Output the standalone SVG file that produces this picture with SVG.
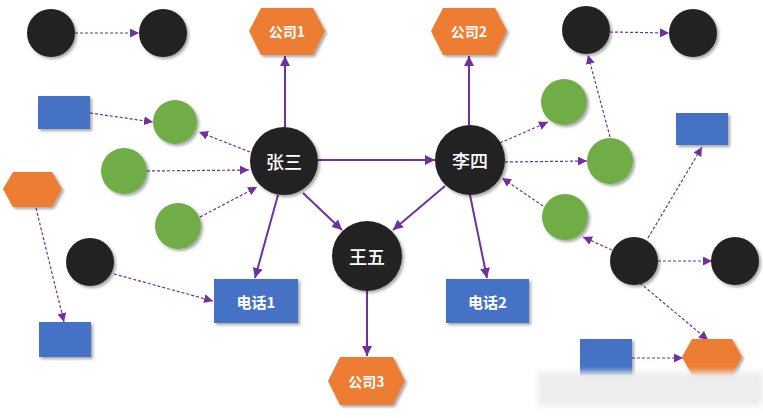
<svg xmlns="http://www.w3.org/2000/svg" width="763" height="418" viewBox="0 0 763 418">
<defs>
<filter id="sh" x="-20%" y="-20%" width="150%" height="150%">
<feDropShadow dx="2" dy="2" stdDeviation="1.5" flood-color="#000" flood-opacity="0.35"/>
</filter>
<filter id="blur" x="-10%" y="-50%" width="120%" height="200%">
<feGaussianBlur stdDeviation="3"/>
</filter>
<marker id="ah" viewBox="0 0 10 10" refX="10" refY="5" markerWidth="10" markerHeight="10" markerUnits="userSpaceOnUse" orient="auto">
<path d="M0,0 L10,5 L0,10 z" fill="#7030A0"/>
</marker>
<marker id="ahs" viewBox="0 0 10 10" refX="10" refY="5" markerWidth="9" markerHeight="9" markerUnits="userSpaceOnUse" orient="auto">
<path d="M0,0 L10,5 L0,10 z" fill="#7030A0"/>
</marker>
</defs>
<style>
.blk{fill:#222222;filter:url(#sh)}
.grn{fill:#70AD47;filter:url(#sh)}
.blu{fill:#4472C4;filter:url(#sh)}
.org{fill:#ED7D31;filter:url(#sh)}
.solid{stroke:#7030A0;stroke-width:2;fill:none;marker-end:url(#ah)}
.dash{stroke:#7030A0;stroke-width:1.2;stroke-dasharray:3 2;fill:none;marker-end:url(#ahs)}
.t{fill:#ffffff;font-family:"Noto Sans CJK SC","Liberation Sans",sans-serif;font-weight:bold;text-anchor:middle;dominant-baseline:central}
.tn{font-weight:500}
</style>
<rect width="763" height="418" fill="#ffffff"/>
<g id="connectors">
<line class="solid" x1="285" y1="127" x2="285" y2="56"/>
<line class="solid" x1="469" y1="125" x2="469" y2="56"/>
<line class="solid" x1="318" y1="160" x2="435" y2="160"/>
<line class="solid" x1="303" y1="193" x2="342" y2="230"/>
<line class="solid" x1="445" y1="186" x2="393" y2="230"/>
<line class="solid" x1="278" y1="195" x2="255" y2="278"/>
<line class="solid" x1="470" y1="195" x2="487" y2="278"/>
<line class="solid" x1="367" y1="291" x2="367" y2="356"/>
<line class="dash" x1="75" y1="33" x2="139" y2="33"/>
<line class="dash" x1="90" y1="113" x2="153" y2="122"/>
<line class="dash" x1="250" y1="152" x2="199" y2="132"/>
<line class="dash" x1="147" y1="171" x2="249" y2="170"/>
<line class="dash" x1="200" y1="217" x2="257" y2="187"/>
<line class="dash" x1="114" y1="274" x2="213" y2="301"/>
<line class="dash" x1="36" y1="208" x2="64" y2="322"/>
<line class="dash" x1="610" y1="32" x2="669" y2="33"/>
<line class="dash" x1="610" y1="137" x2="588" y2="55"/>
<line class="dash" x1="500" y1="143" x2="548" y2="122"/>
<line class="dash" x1="505" y1="162" x2="587" y2="161"/>
<line class="dash" x1="543" y1="206" x2="502" y2="178"/>
<line class="dash" x1="612" y1="250" x2="583" y2="237"/>
<line class="dash" x1="648" y1="238" x2="702" y2="147"/>
<line class="dash" x1="658" y1="261" x2="712" y2="261"/>
<line class="dash" x1="640" y1="283" x2="708" y2="340"/>
<line class="dash" x1="632" y1="358" x2="683" y2="358"/>
</g>
<g id="n_a"><circle class="blk" cx="51" cy="33" r="24"/></g>
<g id="n_b"><circle class="blk" cx="163" cy="33" r="24"/></g>
<g id="n_c"><circle class="blk" cx="586" cy="30" r="24"/></g>
<g id="n_d"><circle class="blk" cx="693" cy="33" r="24"/></g>
<g id="n_e"><circle class="blk" cx="90" cy="262" r="24"/></g>
<g id="n_f"><circle class="blk" cx="634" cy="261" r="24"/></g>
<g id="n_g"><circle class="blk" cx="735" cy="261" r="24"/></g>
<g id="n_zhangsan"><circle class="blk" cx="284" cy="161" r="34"/><text class="t tn" x="284" y="161" font-size="18">张三</text></g>
<g id="n_lisi"><circle class="blk" cx="470" cy="160" r="35"/><text class="t tn" x="470" y="160" font-size="18">李四</text></g>
<g id="n_wangwu"><circle class="blk" cx="367" cy="256" r="35"/><text class="t tn" x="367" y="256" font-size="18">王五</text></g>
<g id="n_g1"><circle class="grn" cx="175" cy="122" r="22"/></g>
<g id="n_g2"><circle class="grn" cx="124" cy="171" r="23"/></g>
<g id="n_g3"><circle class="grn" cx="178" cy="226" r="23"/></g>
<g id="n_g4"><circle class="grn" cx="564" cy="102" r="23"/></g>
<g id="n_g5"><circle class="grn" cx="610" cy="161" r="23"/></g>
<g id="n_g6"><circle class="grn" cx="565" cy="217" r="23"/></g>
<g id="n_b1"><rect class="blu" x="38" y="96" width="52" height="33"/></g>
<g id="n_b2"><rect class="blu" x="676" y="113" width="52" height="32"/></g>
<g id="n_b3"><rect class="blu" x="39" y="322" width="52" height="35"/></g>
<g id="n_b4"><rect class="blu" x="580" y="339" width="52" height="36"/></g>
<g id="n_phone1"><rect class="blu" x="214" y="279" width="84" height="44"/><text class="t" x="256" y="301" font-size="15">电话1</text></g>
<g id="n_phone2"><rect class="blu" x="446" y="279" width="83" height="44"/><text class="t" x="487.5" y="301" font-size="15">电话2</text></g>
<g id="n_co1"><polygon class="org" points="249,31 261,8 313,8 325,31 313,55 261,55"/><text class="t" x="287" y="31" font-size="14">公司1</text></g>
<g id="n_co2"><polygon class="org" points="431,31 443,8 495,8 507,31 495,55 443,55"/><text class="t" x="469" y="31" font-size="14">公司2</text></g>
<g id="n_co3"><polygon class="org" points="328,381 340,357 393,357 405,381 393,405 340,405"/><text class="t" x="366.5" y="381" font-size="14">公司3</text></g>
<g id="n_h1"><polygon class="org" points="3,189 13,172 52,172 62,189 52,207 13,207"/></g>
<g id="n_h2"><polygon class="org" points="682,357 692,339 732,339 742,357 732,375 692,375"/></g>
<g id="watermark"><rect x="538" y="372" width="225" height="34" fill="#ededed" filter="url(#blur)"/></g>
</svg>
